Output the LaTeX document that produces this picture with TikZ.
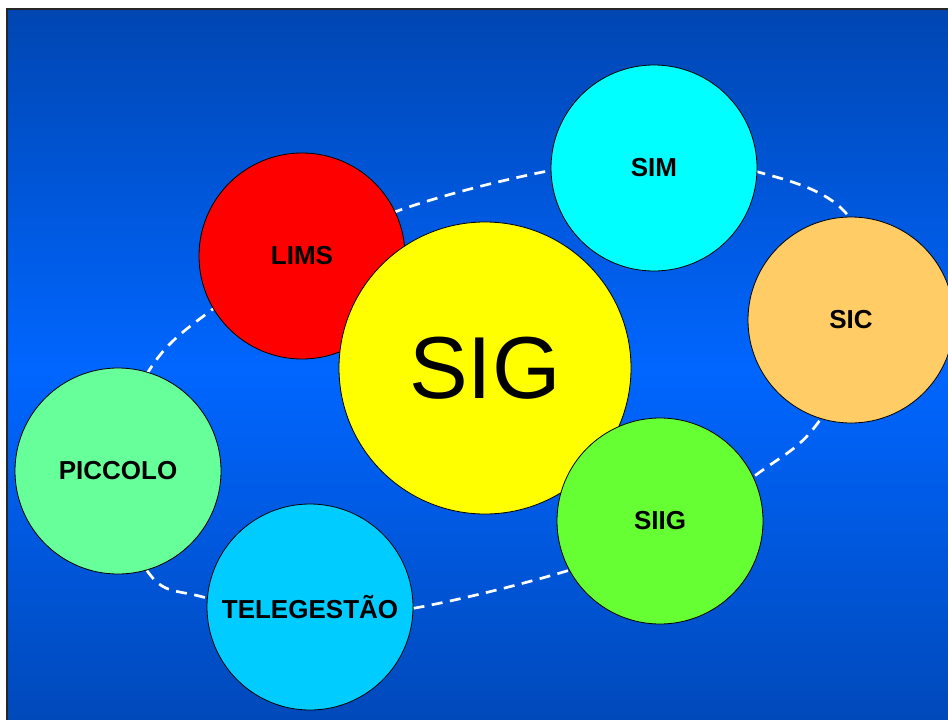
\documentclass[tikz,border=0pt]{standalone}
\usepackage{fontspec}
\setmainfont{Liberation Sans}
\definecolor{bgtop}{RGB}{0,70,178}
\definecolor{bgmid}{RGB}{0,102,255}
\definecolor{bgbot}{RGB}{0,72,184}
\definecolor{cLIMS}{RGB}{255,0,0}
\definecolor{cSIM}{RGB}{0,255,255}
\definecolor{cSIC}{RGB}{255,204,102}
\definecolor{cPIC}{RGB}{102,255,153}
\definecolor{cTEL}{RGB}{0,204,255}
\definecolor{cSIIG}{RGB}{102,255,51}
\definecolor{cSIG}{RGB}{255,255,0}
\tikzset{
  bub/.style={circle, draw=black, line width=0.8pt, inner sep=0pt, minimum size=206pt,
    font=\fontsize{26}{28}\selectfont\bfseries, text=black},
  orbit/.style={white, line width=2.7pt, dash pattern=on 11pt off 7.5pt},
}
\begin{document}
\begin{tikzpicture}[x=1pt,y=-1pt]
\useasboundingbox (0,0) rectangle (948,720);
\fill[white] (0,0) rectangle (948,720);
\begin{scope}
\clip (0,0) rectangle (948,720);
\fill[top color=bgtop, bottom color=bgbot, middle color=bgmid] (7,9) rectangle (960,732);
\draw[line width=1.6pt, black!85] (7,740) -- (7,9) -- (960,9);
\draw[orbit] plot[smooth cycle, tension=0.6] coordinates {
  (152,366) (213,309) (292,260) (403,209) (548,171) (655,160)
  (758,172) (845,212) (878,305) (820,420) (760,472)
  (665,532) (570,570) (415,608) (310,616) (203,597)
  (148,572) (110,465)};
\node[bub, fill=cLIMS] (lims) at (302,256) {LIMS};
\node[bub, fill=cSIG, minimum size=292pt, font=\fontsize{88}{90}\selectfont] (sig) at (485,368) {SIG};
\node[bub, fill=cSIIG] (siig) at (660,521) {SIIG};
\node[bub, fill=cSIM] (sim) at (654,168) {SIM};
\node[bub, fill=cSIC] (sic) at (851,320) {SIC};
\node[bub, fill=cPIC] (pic) at (118,471) {PICCOLO};
\node[bub, fill=cTEL] (tel) at (310,607) {TELEGESTÃO};
\end{scope}
\end{tikzpicture}
\end{document}
